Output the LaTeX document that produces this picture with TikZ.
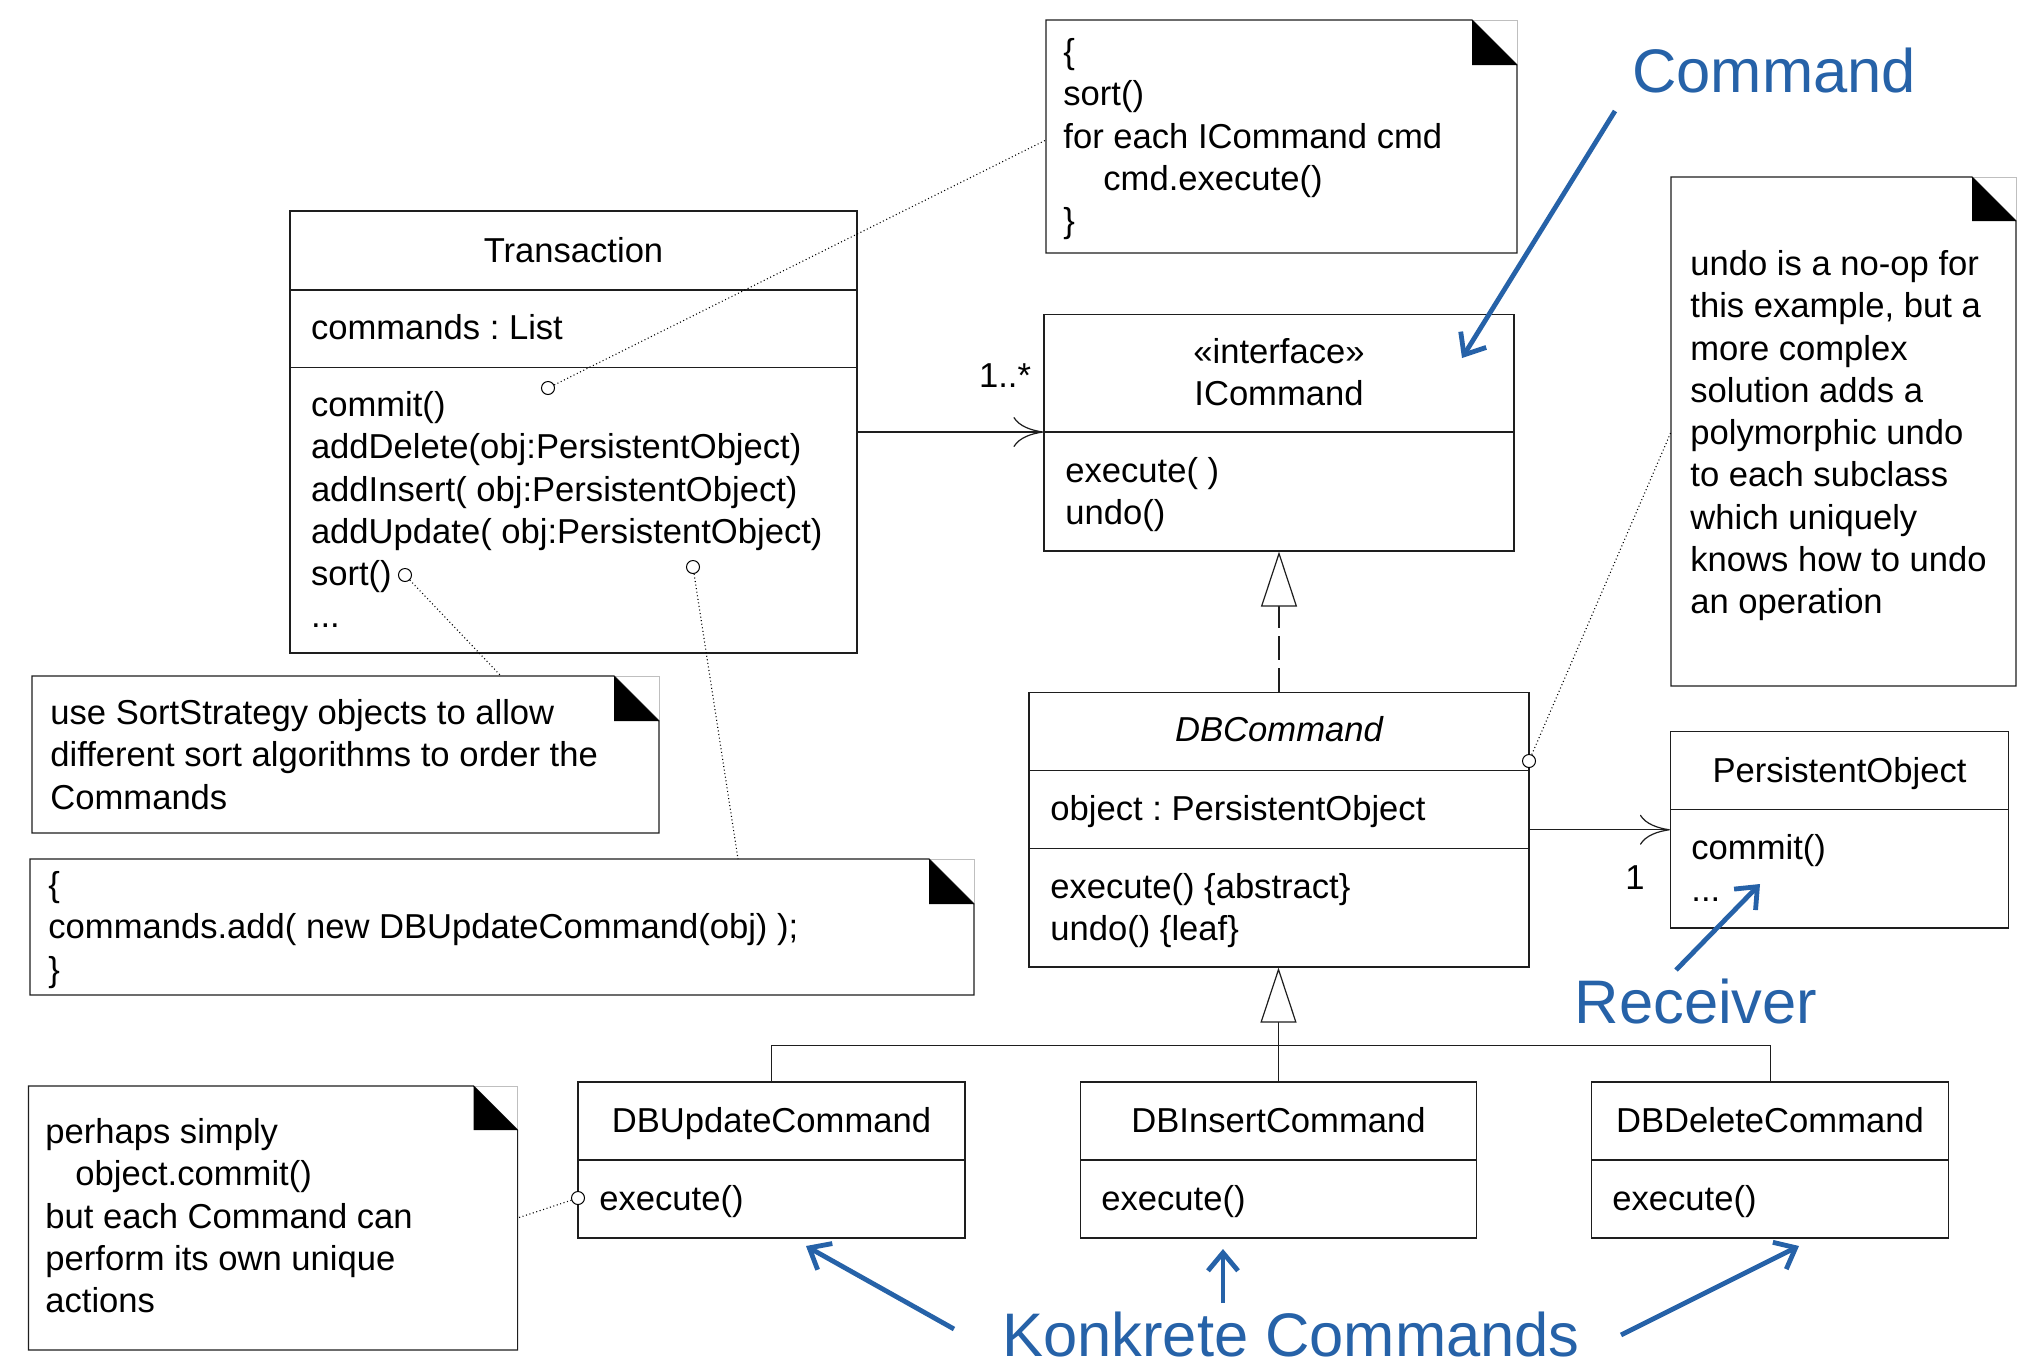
\documentclass[tikz,border=0pt]{standalone}
\usepackage{fontspec}
\setmainfont{Liberation Sans}
\usetikzlibrary{arrows.meta,fit,calc}
\definecolor{cmdblue}{RGB}{38,98,168}
\definecolor{linec}{RGB}{30,30,30}
\frenchspacing
\newcommand{\fstrut}{\rule{0pt}{15pt}}
\newcommand{\umlbox}[5]{\node[fit={(#2,#3) (#4,#5)}, inner sep=0pt, draw=linec, line width=0.6pt] (#1) {};}
\newcommand{\notebox}[6]{%
  \node[fit={(#2,#3) (#4,#5)}, inner sep=0pt] (#1) {};
  \draw[black!25, line width=0.5pt] (#4-#6,#3) -- (#4,#3) -- (#4,#3+#6);
  \draw[draw=linec, line width=0.6pt] (#2,#3) -- (#4-#6,#3) -- (#4,#3+#6) -- (#4,#5) -- (#2,#5) -- cycle;
  \fill[black] (#4-#6,#3) -- (#4-#6,#3+#6) -- (#4,#3+#6) -- cycle;}
\begin{document}
\begin{tikzpicture}[x=0.5pt,y=-0.5pt,
  boxline/.style={draw=linec, line width=0.6pt},
  lbl/.style={font=\fontsize{17.3}{21.15}\selectfont\frenchspacing, inner sep=0pt, align=left},
  bl/.style={font=\fontsize{30.75}{36}\selectfont, text=cmdblue, inner sep=0pt},
  bluearrow/.style={draw=cmdblue, line width=2.4pt, -{Straight Barb[length=9pt,width=15pt]}},
  assoc/.style={boxline, -{Computer Modern Rightarrow[length=15pt,width=15pt]}},
  realize/.style={boxline, dash pattern=on 12pt off 4pt, -{Triangle[open,length=27.5pt,width=18pt,fill=white]}},
  gen/.style={boxline, -{Triangle[open,length=27.5pt,width=18pt,fill=white]}},
  noteline/.style={draw=black, line width=0.55pt, dash pattern=on 0.5pt off 1.3pt},
  hook/.style={circle, draw=black, line width=0.5pt, inner sep=0pt, minimum size=6.5pt, fill=white}]
\useasboundingbox (0,0) rectangle (2029,1366);
\fill[white] (0,0) rectangle (2029,1366);

% ---------- Transaction ----------
\umlbox{tr}{290}{211}{857}{653}
\draw[boxline] (290,290) -- (857,290);
\draw[boxline] (290,367.5) -- (857,367.5);
\node[lbl, anchor=base] (trt) at (573.5,262) {Transaction};
\node[lbl, anchor=base west] (tra) at (310.6,339) {commands : List};
\node[lbl, anchor=north west] (trm) at (310.6,386) {\fstrut commit()\\addDelete(obj:PersistentObject)\\addInsert( obj:PersistentObject)\\addUpdate( obj:PersistentObject)\\sort()\\...};

% ---------- ICommand ----------
\umlbox{ic}{1044}{314.5}{1514}{551}
\draw[boxline] (1044,432) -- (1514,432);
\node[lbl, align=center, anchor=north] (ict) at (1279,333) {\fstrut«interface»\\ICommand};
\node[lbl, anchor=north west] (icm) at (1065,452) {\fstrut execute( )\\undo()};

% ---------- DBCommand ----------
\umlbox{dbc}{1029}{692.5}{1529}{967}
\draw[boxline] (1029,770.5) -- (1529,770.5);
\draw[boxline] (1029,848.6) -- (1529,848.6);
\node[lbl, anchor=base] (dbct) at (1279,741) {\itshape DBCommand};
\node[lbl, anchor=base west] (dbca) at (1050,820) {object : PersistentObject};
\node[lbl, anchor=north west] (dbcm) at (1050,868) {\fstrut execute() \{abstract\}\\undo() \{leaf\}};

% ---------- PersistentObject ----------
\umlbox{po}{1670.5}{731.5}{2008.5}{928}
\draw[boxline] (1670.5,809.5) -- (2008.5,809.5);
\node[lbl, anchor=base] (pot) at (1839.5,782.5) {PersistentObject};
\node[lbl, anchor=north west] (pom) at (1691,829) {\fstrut commit()\\...};

% ---------- Subclasses ----------
\umlbox{upd}{578}{1082}{965}{1238}
\draw[boxline] (578,1160) -- (965,1160);
\node[lbl, anchor=base] (updt) at (771.5,1132) {DBUpdateCommand};
\node[lbl, anchor=base west] (updm) at (599,1210) {execute()};

\umlbox{ins}{1080.5}{1082}{1476.5}{1238}
\draw[boxline] (1080.5,1160) -- (1476.5,1160);
\node[lbl, anchor=base] (inst) at (1278.5,1132) {DBInsertCommand};
\node[lbl, anchor=base west] (insm) at (1101,1210) {execute()};

\umlbox{del}{1591.6}{1082}{1948.7}{1238}
\draw[boxline] (1591.6,1160) -- (1948.7,1160);
\node[lbl, anchor=base] (delt) at (1770,1132) {DBDeleteCommand};
\node[lbl, anchor=base west] (delm) at (1612,1210) {execute()};

% ---------- Notes ----------
\notebox{n1}{1046}{20}{1517}{253}{45}
\node[lbl, anchor=north west] (n1t) at (1063,33) {\fstrut\{\\sort()\\for each ICommand cmd\\\hspace*{20pt}cmd.execute()\\\}};

\notebox{nu}{1671}{177}{2016}{686}{44}
\node[lbl, anchor=north west] (nut) at (1690,245) {\fstrut undo is a no-op for\\this example, but a\\more complex\\solution adds a\\polymorphic undo\\to each subclass\\which uniquely\\knows how to undo\\an operation};

\notebox{ns}{32}{676}{659}{833}{45}
\node[lbl, anchor=north west] (nst) at (50,694) {\fstrut use SortStrategy objects to allow\\different sort algorithms to order the\\Commands};

\notebox{nc}{30}{859}{974}{995}{45}
\node[lbl, anchor=north west] (nct) at (48,866) {\fstrut\{\\commands.add( new DBUpdateCommand(obj) );\\\}};

\notebox{np}{28.5}{1086}{517.6}{1350}{44}
\node[lbl, anchor=north west] (npt) at (45,1113) {\fstrut perhaps simply\\\hspace*{15pt}object.commit()\\but each Command can\\perform its own unique\\actions};

% ---------- Relations ----------
\draw[assoc] (tr.east) -- (tr.east -| ic.west);
\node[lbl, anchor=base] (m1) at (1005,387) {1..*};
\draw[realize] (dbc.north) -- (ic.south);
\draw[assoc] (dbc.east) -- (dbc.east -| po.west);
\node[lbl, anchor=base] (m2) at (1635,889) {1};

\coordinate (hub) at (1278.5,1045.6);
\draw[boxline] (upd.north) |- (hub);
\draw[boxline] (del.north) |- (hub);
\draw[boxline] (ins.north) -- (hub);
\draw[gen] (hub) -- (hub |- dbc.south);

% ---------- Note anchors ----------
\node[hook] (h1) at (548,388) {};
\node[hook] (h2) at (405,575) {};
\node[hook] (h3) at (693,567) {};
\node[hook] (h4) at (1529,761) {};
\node[hook] (h5) at (578,1198) {};
\coordinate (e1) at (1046,140);
\coordinate (e2) at (501,676);
\coordinate (e3) at (738,859);
\coordinate (e4) at (1671,432);
\coordinate (e5) at (517.6,1218);
\draw[noteline] (h1) -- (e1);
\draw[noteline] (h2) -- (e2);
\draw[noteline] (h3) -- (e3);
\draw[noteline] (h4) -- (e4);
\draw[noteline] (h5) -- (e5);

% ---------- Blue annotations ----------
\node[bl, anchor=base] (lcmd) at (1774,92) {Command};
\node[bl, anchor=base] (lrec) at (1696,1023) {Receiver};
\node[bl, anchor=base] (lkon) at (1291,1356) {Konkrete Commands};
\coordinate (a1s) at (1615,111);  \coordinate (a1e) at (1462,358);
\coordinate (a2s) at (1676,970);  \coordinate (a2e) at (1760,884);
\coordinate (a3s) at (954,1329);  \coordinate (a3e) at (806,1246);
\coordinate (a4s) at (1223,1303); \coordinate (a4e) at (1223,1249);
\coordinate (a5s) at (1621,1335); \coordinate (a5e) at (1799,1246);
\draw[bluearrow] (a1s) -- (a1e);
\draw[bluearrow] (a2s) -- (a2e);
\draw[bluearrow] (a3s) -- (a3e);
\draw[bluearrow] (a4s) -- (a4e);
\draw[bluearrow] (a5s) -- (a5e);
\end{tikzpicture}
\end{document}
